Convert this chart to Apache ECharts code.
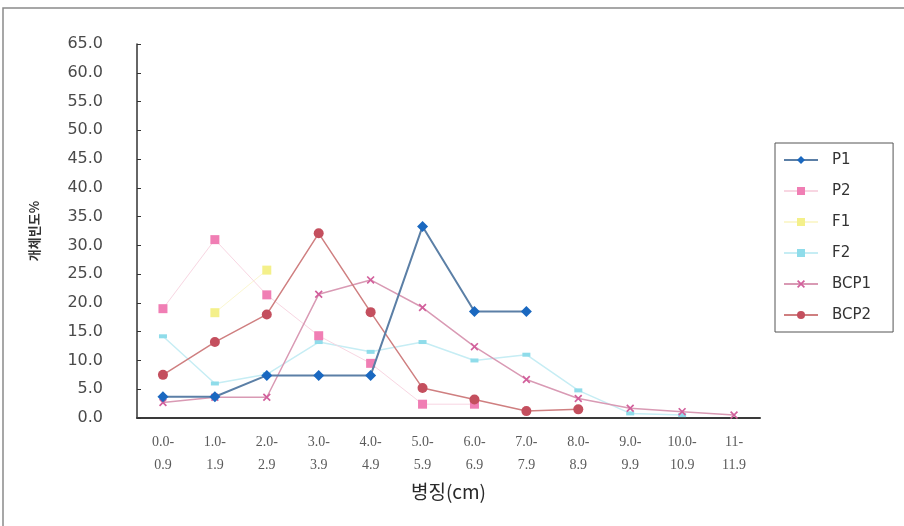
<!DOCTYPE html>
<html>
<head>
<meta charset="utf-8">
<script src="https://cdn.jsdelivr.net/npm/echarts@6/dist/echarts.min.js"></script>
<style>
  html, body { margin: 0; padding: 0; background: #ffffff; }
  #chart { width: 904px; height: 526px; }
</style>
</head>
<body>
<div id="chart"></div>
<script>
// Stem-diameter classes (cm)
const categories = ['0.0-\n0.9', '1.0-\n1.9', '2.0-\n2.9', '3.0-\n3.9', '4.0-\n4.9', '5.0-\n5.9',
                    '6.0-\n6.9', '7.0-\n7.9', '8.0-\n8.9', '9.0-\n9.9', '10.0-\n10.9', '11-\n11.9'];

// Individual frequency (%) per population
const p1   = [3.7, 3.7, 7.4, 7.4, 7.4, 33.3, 18.5, 18.5, null, null, null, null];
const p2   = [19.0, 31.0, 21.4, 14.3, 9.5, 2.4, 2.4, null, null, null, null, null];
const f1   = [null, 18.3, 25.7, null, null, null, null, null, null, null, null, null];
const f2   = [14.2, 6.0, 7.6, 13.2, 11.5, 13.2, 10.0, 11.0, 4.8, 0.8, 0.5, null];
const bcp1 = [2.7, 3.6, 3.6, 21.5, 24.0, 19.2, 12.4, 6.7, 3.4, 1.7, 1.1, 0.5];
const bcp2 = [7.5, 13.2, 18.0, 32.1, 18.4, 5.2, 3.2, 1.2, 1.5, null, null, null];

const yTicks = { min: 0, max: 65, step: 5 };

const chart = echarts.init(document.getElementById('chart'), null, { renderer: 'canvas' });

const xPath = 'path://M0,1.5 L1.5,0 L10,8.5 L8.5,10 Z M8.5,0 L10,1.5 L1.5,10 L0,8.5 Z';

function lineSeries(name, data, lineColor, lineWidth, symbol, symbolSize, markColor, z) {
  return {
    name: name,
    type: 'line',
    data: data,
    symbol: symbol,
    symbolSize: symbolSize,
    showSymbol: true,
    connectNulls: false,
    z: z,
    lineStyle: { color: lineColor, width: lineWidth },
    itemStyle: { color: markColor, borderWidth: 0 },
    emphasis: { disabled: true }
  };
}

chart.setOption({
  animation: false,
  backgroundColor: '#ffffff',
  textStyle: { fontFamily: 'Liberation Sans, Arial, sans-serif' },
  graphic: [{
    type: 'polyline',
    shape: { points: [[3, 526], [3, 8], [904, 8]] },
    style: { stroke: '#8a8a8a', lineWidth: 1.5, fill: null }
  }],
  grid: { left: 137, top: 44, width: 623, height: 374, containLabel: false },
  legend: {
    orient: 'vertical',
    left: 775,
    top: 143,
    padding: [8, 22, 8, 8],
    itemGap: 13,
    itemWidth: 34,
    itemHeight: 10,
    borderColor: '#555555',
    borderWidth: 1,
    textStyle: { fontSize: 15, color: '#333333', lineHeight: 18, padding: [0, 0, 0, 9],
                 fontFamily: 'DejaVu Sans, sans-serif' },
    data: ['P1', 'P2', 'F1', 'F2', 'BCP1', 'BCP2']
  },
  xAxis: {
    type: 'category',
    data: categories,
    boundaryGap: true,
    name: '병징(cm)',
    nameLocation: 'middle',
    nameGap: 64,
    nameTextStyle: { fontSize: 19, color: '#2a2a2a', fontFamily: 'Noto Sans CJK KR, sans-serif' },
    axisLine: { lineStyle: { color: '#3a3a3a', width: 2 } },
    axisTick: { inside: true, length: 4, lineStyle: { color: '#333333' } },
    axisLabel: {
      margin: 13,
      fontSize: 14,
      lineHeight: 23,
      color: '#5a5a5a',
      fontFamily: 'Liberation Serif, serif',
      interval: 0
    },
    splitLine: { show: false }
  },
  yAxis: {
    type: 'value',
    min: yTicks.min,
    max: yTicks.max,
    interval: yTicks.step,
    name: '개체빈도%',
    nameLocation: 'middle',
    nameGap: 96,
    nameRotate: 90,
    nameTextStyle: { fontSize: 13, fontWeight: 'bold', color: '#333333', fontFamily: 'Noto Sans CJK KR, sans-serif' },
    axisLine: { show: true, lineStyle: { color: '#333333', width: 1.5 } },
    axisTick: { show: true, inside: true, length: 4, lineStyle: { color: '#333333' } },
    axisLabel: {
      margin: 34,
      fontSize: 16,
      color: '#4a4a4a',
      fontFamily: 'DejaVu Sans, sans-serif',
      formatter: v => v.toFixed(1)
    },
    splitLine: { show: false }
  },
  series: [
    lineSeries('P1', p1, '#5b7fa6', 2, 'diamond', 11, '#1a68c0', 10),
    lineSeries('P2', p2, '#f8d6e2', 1, 'rect', 9, '#f07eb4', 4),
    lineSeries('F1', f1, '#fbf7d0', 1, 'rect', 9, '#f4f08a', 3),
    lineSeries('F2', f2, '#c6edf4', 1.5, 'rect', [8, 4], '#8fdcea', 2),
    lineSeries('BCP1', bcp1, '#d99ab4', 1.5, xPath, 8, '#d2609c', 5),
    lineSeries('BCP2', bcp2, '#cf7f80', 1.5, 'circle', 10, '#c44f5e', 6)
  ]
});
</script>
</body>
</html>
